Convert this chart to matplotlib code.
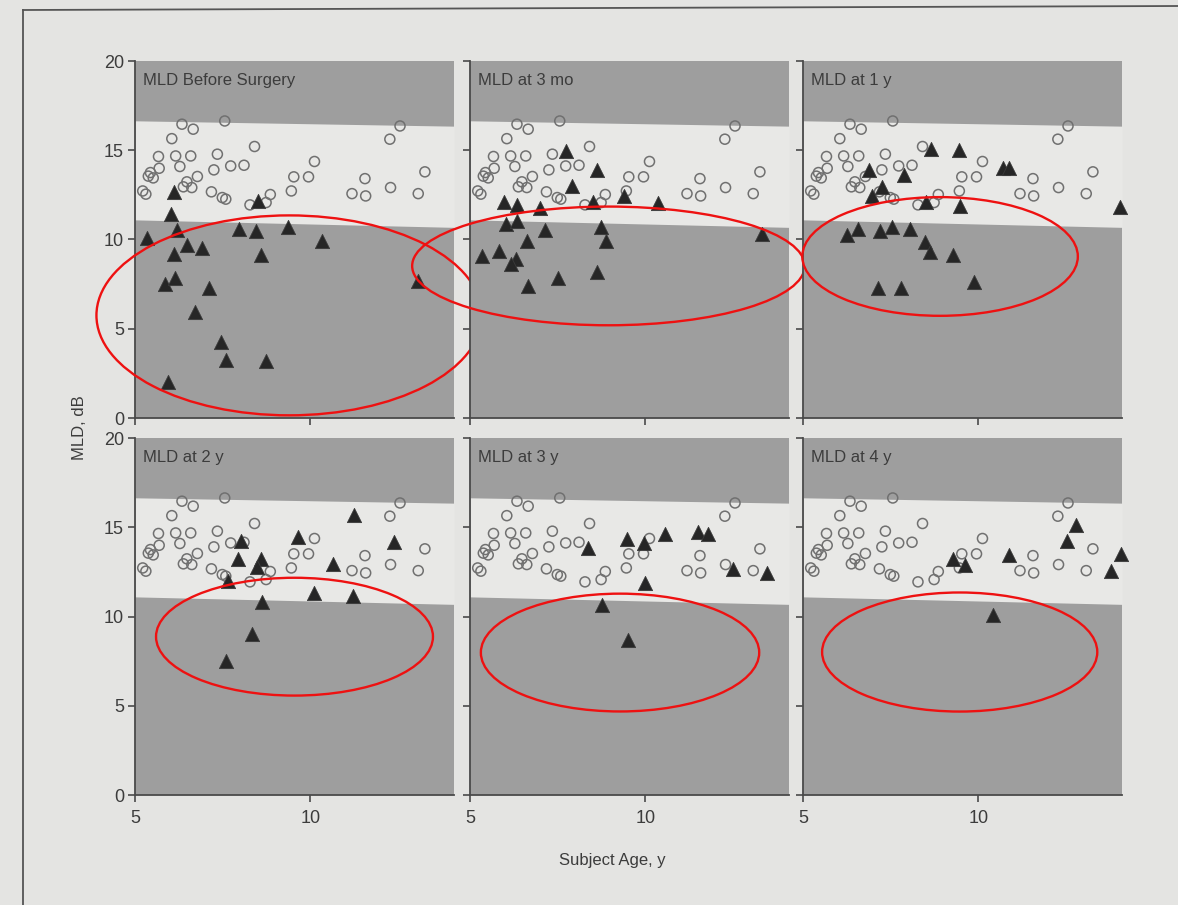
import matplotlib
matplotlib.use("Agg")
import matplotlib.pyplot as plt
from matplotlib.patches import Ellipse
from matplotlib.lines import Line2D

plt.rcParams['font.family'] = ['Liberation Sans Narrow', 'Liberation Sans', 'DejaVu Sans']

# Normal-hearing control group (repeated in every panel)
control_age = [5.22, 5.31, 5.38, 5.44, 5.52, 5.67, 5.69, 6.05, 6.16, 6.28, 6.34,
               6.38, 6.48, 6.59, 6.62, 6.66, 6.78, 7.18, 7.25, 7.35, 7.49, 7.59,
               7.56, 7.73, 8.11, 8.28, 8.41, 8.74, 8.86, 9.46, 9.53, 9.95, 10.12,
               11.19, 11.56, 11.58, 12.27, 12.29, 12.56, 13.08, 13.27]
control_mld = [12.72, 12.54, 13.55, 13.75, 13.45, 14.65, 13.99, 15.65, 14.68, 14.09,
               16.46, 12.95, 13.23, 14.68, 12.91, 16.18, 13.53, 12.67, 13.90, 14.78,
               12.35, 12.26, 16.64, 14.12, 14.16, 11.94, 15.21, 12.07, 12.52, 12.72,
               13.51, 13.51, 14.37, 12.57, 13.41, 12.44, 15.62, 12.91, 16.36, 12.57,
               13.79]

# Normal range (age-regressed limits)
norm_age = [5.0, 14.1]
norm_upper = [16.65, 16.35]
norm_lower = [11.10, 10.68]

# Patients, one pair of lists per test session
age_pre = [5.33, 6.12, 6.02, 6.21, 6.48, 6.12, 6.92, 5.86, 6.15, 7.11, 6.71, 7.44,
           7.59, 5.95, 8.75, 7.98, 8.46, 8.60, 9.36, 10.33, 8.50, 13.08]
mld_pre = [10.11, 12.67, 11.42, 10.52, 9.68, 9.18, 9.50, 7.50, 7.87, 7.31, 5.95, 4.27,
           3.26, 2.00, 3.21, 10.58, 10.48, 9.12, 10.69, 9.89, 12.13, 7.70]

age_3mo = [7.75, 8.63, 7.91, 5.96, 6.33, 6.99, 8.51, 9.39, 10.37, 6.03, 6.33, 7.13,
           8.75, 8.87, 6.62, 5.34, 5.82, 6.30, 6.17, 6.66, 7.52, 8.63, 13.34]
mld_3mo = [14.93, 13.90, 12.97, 12.09, 11.94, 11.75, 12.09, 12.41, 12.03, 10.86, 11.01,
           10.54, 10.69, 9.89, 9.89, 9.10, 9.38, 8.92, 8.62, 7.37, 7.84, 8.17, 10.30]

age_1y = [8.65, 9.46, 10.71, 10.88, 6.88, 7.87, 7.25, 6.98, 8.52, 9.47, 14.03, 6.26,
          6.56, 7.20, 7.55, 8.04, 8.49, 8.63, 9.27, 7.13, 7.80, 9.89]
mld_1y = [15.06, 15.02, 14.00, 14.00, 13.87, 13.59, 12.92, 12.42, 12.08, 11.86, 11.80,
          10.28, 10.59, 10.50, 10.69, 10.61, 9.85, 9.29, 9.13, 7.30, 7.30, 7.62]

age_2y = [8.02, 7.95, 8.59, 8.47, 7.66, 9.65, 10.65, 11.25, 12.38, 10.12, 11.23, 8.61,
          8.35, 7.61]
mld_2y = [14.21, 13.23, 13.23, 12.80, 12.00, 14.43, 12.93, 15.70, 14.17, 11.31, 11.16,
          10.79, 9.01, 7.48]

age_3y = [8.36, 9.49, 9.97, 10.57, 11.49, 11.78, 12.50, 13.47, 9.99, 8.76, 9.52]
mld_3y = [13.86, 14.33, 14.14, 14.61, 14.76, 14.61, 12.64, 12.42, 11.85, 10.64, 8.71]

age_4y = [9.28, 9.62, 10.88, 12.53, 12.79, 13.78, 14.08, 10.42]
mld_4y = [13.23, 12.86, 13.46, 14.22, 15.10, 12.54, 13.48, 10.07]

panel_titles = ['MLD Before Surgery', 'MLD at 3 mo', 'MLD at 1 y',
                'MLD at 2 y', 'MLD at 3 y', 'MLD at 4 y']
panel_ages = [age_pre, age_3mo, age_1y, age_2y, age_3y, age_4y]
panel_mlds = [mld_pre, mld_3mo, mld_1y, mld_2y, mld_3y, mld_4y]

x_ticks = [5, 10]
y_ticks = [0, 5, 10, 15, 20]

# Red rings marking the below-normal patients: (centre x, centre y, width, height)
rings = [(9.40, 5.75, 11.0, 11.2), (8.95, 8.52, 11.2, 6.65), (8.91, 9.05, 7.86, 6.65),
         (9.55, 8.87, 7.9, 6.6), (9.28, 7.98, 7.94, 6.6), (9.47, 8.01, 7.85, 6.67)]

paper = '#e4e4e2'
band = '#9e9e9e'
stripe = '#e8e8e6'
ink = '#3c3c3c'

W, H = 1178, 905
fig = plt.figure(figsize=(W / 100, H / 100), dpi=100, facecolor=paper)

# page frame
fig.add_artist(Line2D([23 / W, 23 / W], [0, 1 - 10 / H], color='#555555', lw=1.3))
fig.add_artist(Line2D([23 / W, 1], [1 - 10 / H, 1 - 6 / H], color='#555555', lw=1.3))

lefts = [135, 470, 803]
tops = [61, 438]
pw, ph = 319, 357

for i in range(6):
    r, c = divmod(i, 3)
    ax = fig.add_axes([lefts[c] / W, 1 - (tops[r] + ph) / H, pw / W, ph / H])
    ax.set_facecolor(band)
    ax.fill_between(norm_age, norm_lower, norm_upper, color=stripe, lw=0, zorder=1)
    ax.set_xlim(5, 14.1)
    ax.set_ylim(0, 20)
    for s in ['top', 'right']:
        ax.spines[s].set_visible(False)
    for s in ['left', 'bottom']:
        ax.spines[s].set_color('#4a4a4a')
        ax.spines[s].set_linewidth(1.3)
    ax.set_xticks(x_ticks)
    ax.set_yticks(y_ticks)
    ax.tick_params(direction='out', length=5, width=1.2, color='#4a4a4a',
                   labelsize=13, labelcolor=ink)
    ax.tick_params(axis='x', pad=6)
    ax.tick_params(axis='y', pad=3)
    if c != 0:
        ax.set_yticklabels([])
    if r == 0:
        ax.set_xticklabels([])

    ax.scatter(control_age, control_mld, s=52, facecolors='none', edgecolors='#707070',
               linewidths=1.1, zorder=3, clip_on=False)
    ax.scatter(panel_ages[i], panel_mlds[i], marker='^', s=105, color='#262626',
               edgecolors='#3a3a3a', linewidths=0.6, zorder=4, clip_on=False)
    ax.text(0.025, 0.965, panel_titles[i], transform=ax.transAxes, ha='left', va='top',
            fontsize=12, color=ink)

    cx, cy, ew, eh = rings[i]
    ax.add_patch(Ellipse((cx, cy), ew, eh, fill=False, edgecolor='#ee1111', lw=1.7,
                         zorder=6, clip_on=False))

fig.text(80 / W, 1 - 428 / H, 'MLD, dB', rotation=90, ha='center', va='center',
         fontsize=12, color=ink)
fig.text(612 / W, 1 - 860 / H, 'Subject Age, y', ha='center', va='center',
         fontsize=12, color=ink)

fig.savefig('out.png', dpi=100, facecolor=paper)
